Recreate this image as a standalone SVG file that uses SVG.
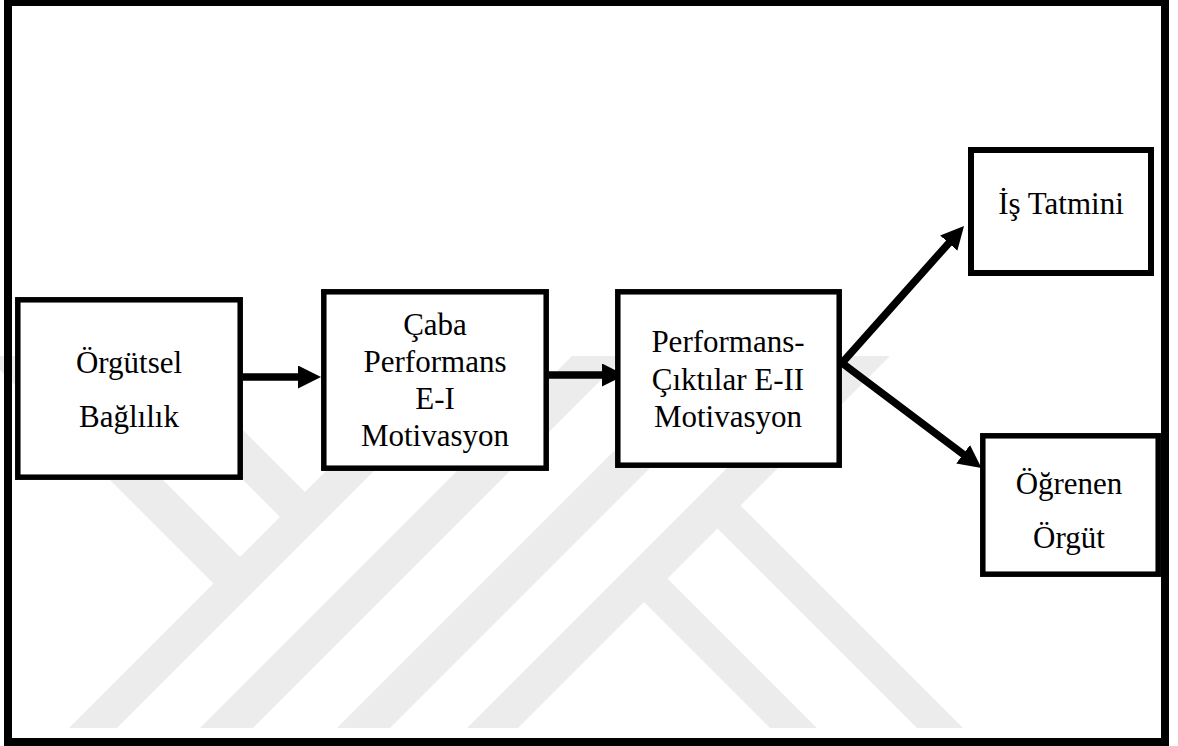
<svg xmlns="http://www.w3.org/2000/svg" width="1178" height="746" viewBox="0 0 1178 746">
  <style>
    .box { fill: #ffffff; stroke: #000000; stroke-width: 5.5; }
    .frame { fill: none; stroke: #000000; stroke-width: 8; }
    .lbl { font-family: "Liberation Serif", "Times New Roman", serif; font-size: 31px; fill: #000000; text-anchor: middle; }
    .wire { fill: none; stroke: #000000; stroke-width: 7.5; stroke-linejoin: miter; }
    .mark { fill: #ececec; }
  </style>
  <defs>
    <marker id="head" markerUnits="userSpaceOnUse" markerWidth="24" markerHeight="24" refX="1" refY="11.5" orient="auto-start-reverse">
      <path d="M0,0 L23,11.5 L0,23 z" fill="#000000"/>
    </marker>
    <clipPath id="markClip">
      <rect x="0" y="356" width="1178" height="372"/>
    </clipPath>
  </defs>

  <rect width="1178" height="746" fill="#ffffff"/>

  <!-- faint background emblem made of diagonal bands -->
  <g id="emblem" class="mark" clip-path="url(#markClip)">
    <polygon points="441,356 489,356 117,728 69,728"/>
    <polygon points="572,356 625,356 253,728 200,728"/>
    <polygon points="709,356 762,356 390,728 337,728"/>
    <polygon points="839,356 890,356 518,728 467,728"/>
    <polygon points="-14,356 39,356 244,561 217.5,587.5"/>
    <polygon points="119,356 169,356 309,496 284,521"/>
    <polygon points="663.5,574.5 640,598 770,728 817,728"/>
    <polygon points="736.5,501.5 713.5,524.5 917,728 963,728"/>
  </g>

  <!-- outer frame -->
  <rect class="frame" x="8" y="2" width="1157" height="740"/>

  <!-- connectors -->
  <g id="connectors">
    <path class="wire" d="M243,377 L299,377" marker-end="url(#head)"/>
    <path class="wire" d="M549,375 L603,375" marker-end="url(#head)"/>
    <path class="wire" d="M949.4,242.4 L842,363 L963.9,454.8" marker-start="url(#head)" marker-end="url(#head)"/>
  </g>

  <g id="orgutsel-baglilik">
    <rect class="box" x="17.8" y="299.8" width="222.4" height="177.4"/>
    <text class="lbl" x="129" y="373">Örgütsel</text>
    <text class="lbl" x="129" y="427">Bağlılık</text>
  </g>

  <g id="caba-performans">
    <rect class="box" x="323.8" y="291.8" width="222.4" height="176.4"/>
    <text class="lbl" x="435" y="335">Çaba</text>
    <text class="lbl" x="435" y="372">Performans</text>
    <text class="lbl" x="435" y="409">E-I</text>
    <text class="lbl" x="435" y="446">Motivasyon</text>
  </g>

  <g id="performans-ciktilar">
    <rect class="box" x="617.8" y="291.8" width="221.4" height="173.4"/>
    <text class="lbl" x="728" y="352">Performans-</text>
    <text class="lbl" x="728" y="389.5">Çıktılar E-II</text>
    <text class="lbl" x="728" y="427">Motivasyon</text>
  </g>

  <g id="is-tatmini">
    <rect class="box" x="971" y="150" width="180" height="123" style="stroke-width:6"/>
    <text class="lbl" x="1061" y="214">İş Tatmini</text>
  </g>

  <g id="ogrenen-orgut">
    <rect class="box" x="982.8" y="435.8" width="175.4" height="138.4"/>
    <text class="lbl" x="1069" y="494">Öğrenen</text>
    <text class="lbl" x="1069" y="548">Örgüt</text>
  </g>

  <!-- frame edge redrawn over the box that touches it -->
  <line x1="1165" y1="430" x2="1165" y2="580" stroke="#000000" stroke-width="8"/>
</svg>
